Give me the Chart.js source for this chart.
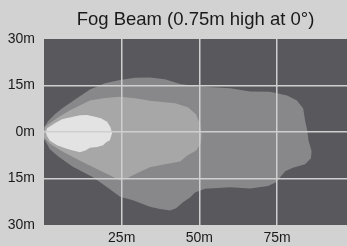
<!DOCTYPE html>
<html>
<head>
<meta charset="utf-8">
<script src="https://cdn.jsdelivr.net/npm/chart.js@4/dist/chart.umd.min.js"></script>
<style>
  html, body { margin: 0; padding: 0; background: #d2d2d2; }
  #wrap { width: 347px; height: 246px; }
</style>
</head>
<body>
<div id="wrap"><canvas id="beam"></canvas></div>
<script>
const titleText = 'Fog Beam (0.75m high at 0\u00b0)';

// tick values and labels
const xTickValues = [25, 50, 75];
const xTickLabels = ['25m', '50m', '75m'];
const yTickValues = [-30, -15, 0, 15, 30];
const yTickLabels = ['30m', '15m', '0m', '15m', '30m'];

// bright centre of the beam (distance m, lateral m)
const innerX = [0.6, 1.0, 1.9, 3.9, 5.8, 9.3, 11.6, 13.8, 16.4, 18.3, 20.3, 21.4, 21.9, 21.2, 20.0, 19.0, 17.1, 14.8, 13.5, 11.6, 9.0, 7.1, 4.2, 1.9, 1.0, 0.6];
const innerY = [-0.1, 1.2, 1.8, 3.1, 4.1, 4.9, 5.4, 5.5, 4.9, 4.4, 3.3, 1.5, -0.4, -2.7, -3.3, -4.3, -4.8, -5.1, -5.9, -6.5, -5.9, -5.3, -4.3, -2.8, -1.4, -0.1];

// middle zone
const middleX = [0, 0.6, 1.9, 4.5, 8.4, 14.8, 19.6, 24.5, 29.3, 34.1, 42.2, 46.3, 48.9, 50.2, 50.7, 50.5, 49.1, 46.0, 43.8, 38.9, 34.1, 29.9, 26.7, 24.5, 18.0, 11.6, 5.8, 1.9, 0.3, 0];
const middleY = [0.2, 1.8, 2.8, 4.7, 7.0, 10.2, 11.0, 11.4, 10.9, 10.1, 9.3, 8.0, 5.7, 2.5, -1.1, -3.3, -5.9, -7.7, -9.5, -10.4, -11.4, -13.3, -14.9, -15.6, -12.4, -9.3, -6.2, -3.8, -2.0, 0.2];

// outer spread
const outerX = [0, 0, 1.3, 3.5, 5.8, 10.0, 14.8, 19.6, 24.5, 29.3, 34.1, 38.9, 43.8, 50.2, 59.9, 66.3, 72.7, 78.2, 81.4, 83.4, 84.0, 84.7, 85.1, 86.1, 85.9, 84.0, 80.1, 77.6, 76.0, 74.7, 72.1, 66.3, 59.9, 51.8, 48.6, 47.0, 44.7, 42.5, 40.6, 37.3, 34.1, 28.6, 24.5, 20.3, 15.8, 9.3, 4.5, 1.9, 0.3, 0];
const outerY = [-0.4, 1.5, 3.5, 5.7, 7.6, 10.5, 13.7, 15.7, 16.8, 17.5, 17.6, 17.0, 15.5, 14.7, 14.1, 13.1, 13.0, 11.8, 10.2, 7.6, 3.8, 0.5, -2.7, -6.2, -8.5, -10.4, -11.5, -12.7, -14.6, -16.2, -17.4, -18.2, -17.8, -18.3, -19.5, -21.1, -22.7, -24.6, -25.3, -24.8, -24.1, -22.0, -20.9, -17.8, -14.6, -11.2, -7.8, -5.6, -2.7, -0.4];

function toPoints(xs, ys) {
    return xs.map((x, i) => ({ x: x, y: ys[i] }));
}

function zone(xs, ys, colour) {
    return {
        data: toPoints(xs, ys),
        showLine: true,
        fill: 'shape',
        backgroundColor: colour,
        borderWidth: 0,
        borderColor: colour,
        pointRadius: 0,
        tension: 0
    };
}

// paints the dark plot area behind everything
const plotBg = {
    id: 'plotBg',
    beforeDraw(chart) {
        let a = chart.chartArea;
        let ctx = chart.ctx;
        ctx.save();
        ctx.fillStyle = '#59595d';
        ctx.fillRect(a.left, a.top, a.right - a.left, a.bottom - a.top);
        ctx.restore();
    }
};

const font = { family: '"Liberation Sans", Arial, sans-serif', size: 14 };

new Chart(document.getElementById('beam'), {
    type: 'scatter',
    data: {
        datasets: [
            zone(innerX, innerY, '#e3e3e3'),
            zone(middleX, middleY, '#a7a7a7'),
            zone(outerX, outerY, '#88888a')
        ]
    },
    options: {
        responsive: true,
        maintainAspectRatio: false,
        animation: false,
        layout: { padding: 0 },
        plugins: {
            legend: { display: false },
            tooltip: { enabled: false },
            title: {
                display: true,
                text: titleText,
                fullSize: false,
                color: '#1a1a1a',
                font: { family: font.family, size: 18.5, weight: 'normal' },
                padding: { top: 9, bottom: 7.8 }
            }
        },
        scales: {
            x: {
                min: 0,
                max: 97.5,
                afterBuildTicks: s => { s.ticks = xTickValues.map(v => ({ value: v })); },
                afterFit: s => { s.height = 21; },
                ticks: {
                    color: '#1a1a1a',
                    font: font,
                    padding: 5,
                    maxRotation: 0,
                    callback: (v) => xTickLabels[xTickValues.indexOf(v)]
                },
                grid: { color: '#cfcfcf', lineWidth: 1.5, drawTicks: false, z: 1 },
                border: { display: false }
            },
            y: {
                min: -30,
                max: 30,
                afterBuildTicks: s => { s.ticks = yTickValues.map(v => ({ value: v })); },
                afterFit: s => { s.width = 44; },
                ticks: {
                    color: '#1a1a1a',
                    font: font,
                    padding: 9,
                    callback: (v) => yTickLabels[yTickValues.indexOf(v)]
                },
                grid: {
                    color: c => (Math.abs(c.tick.value) === 30 ? 'rgba(0,0,0,0)' : '#cfcfcf'),
                    lineWidth: 1.5,
                    drawTicks: false,
                    z: 1
                },
                border: { display: false }
            }
        }
    },
    plugins: [plotBg]
});
</script>
</body>
</html>
